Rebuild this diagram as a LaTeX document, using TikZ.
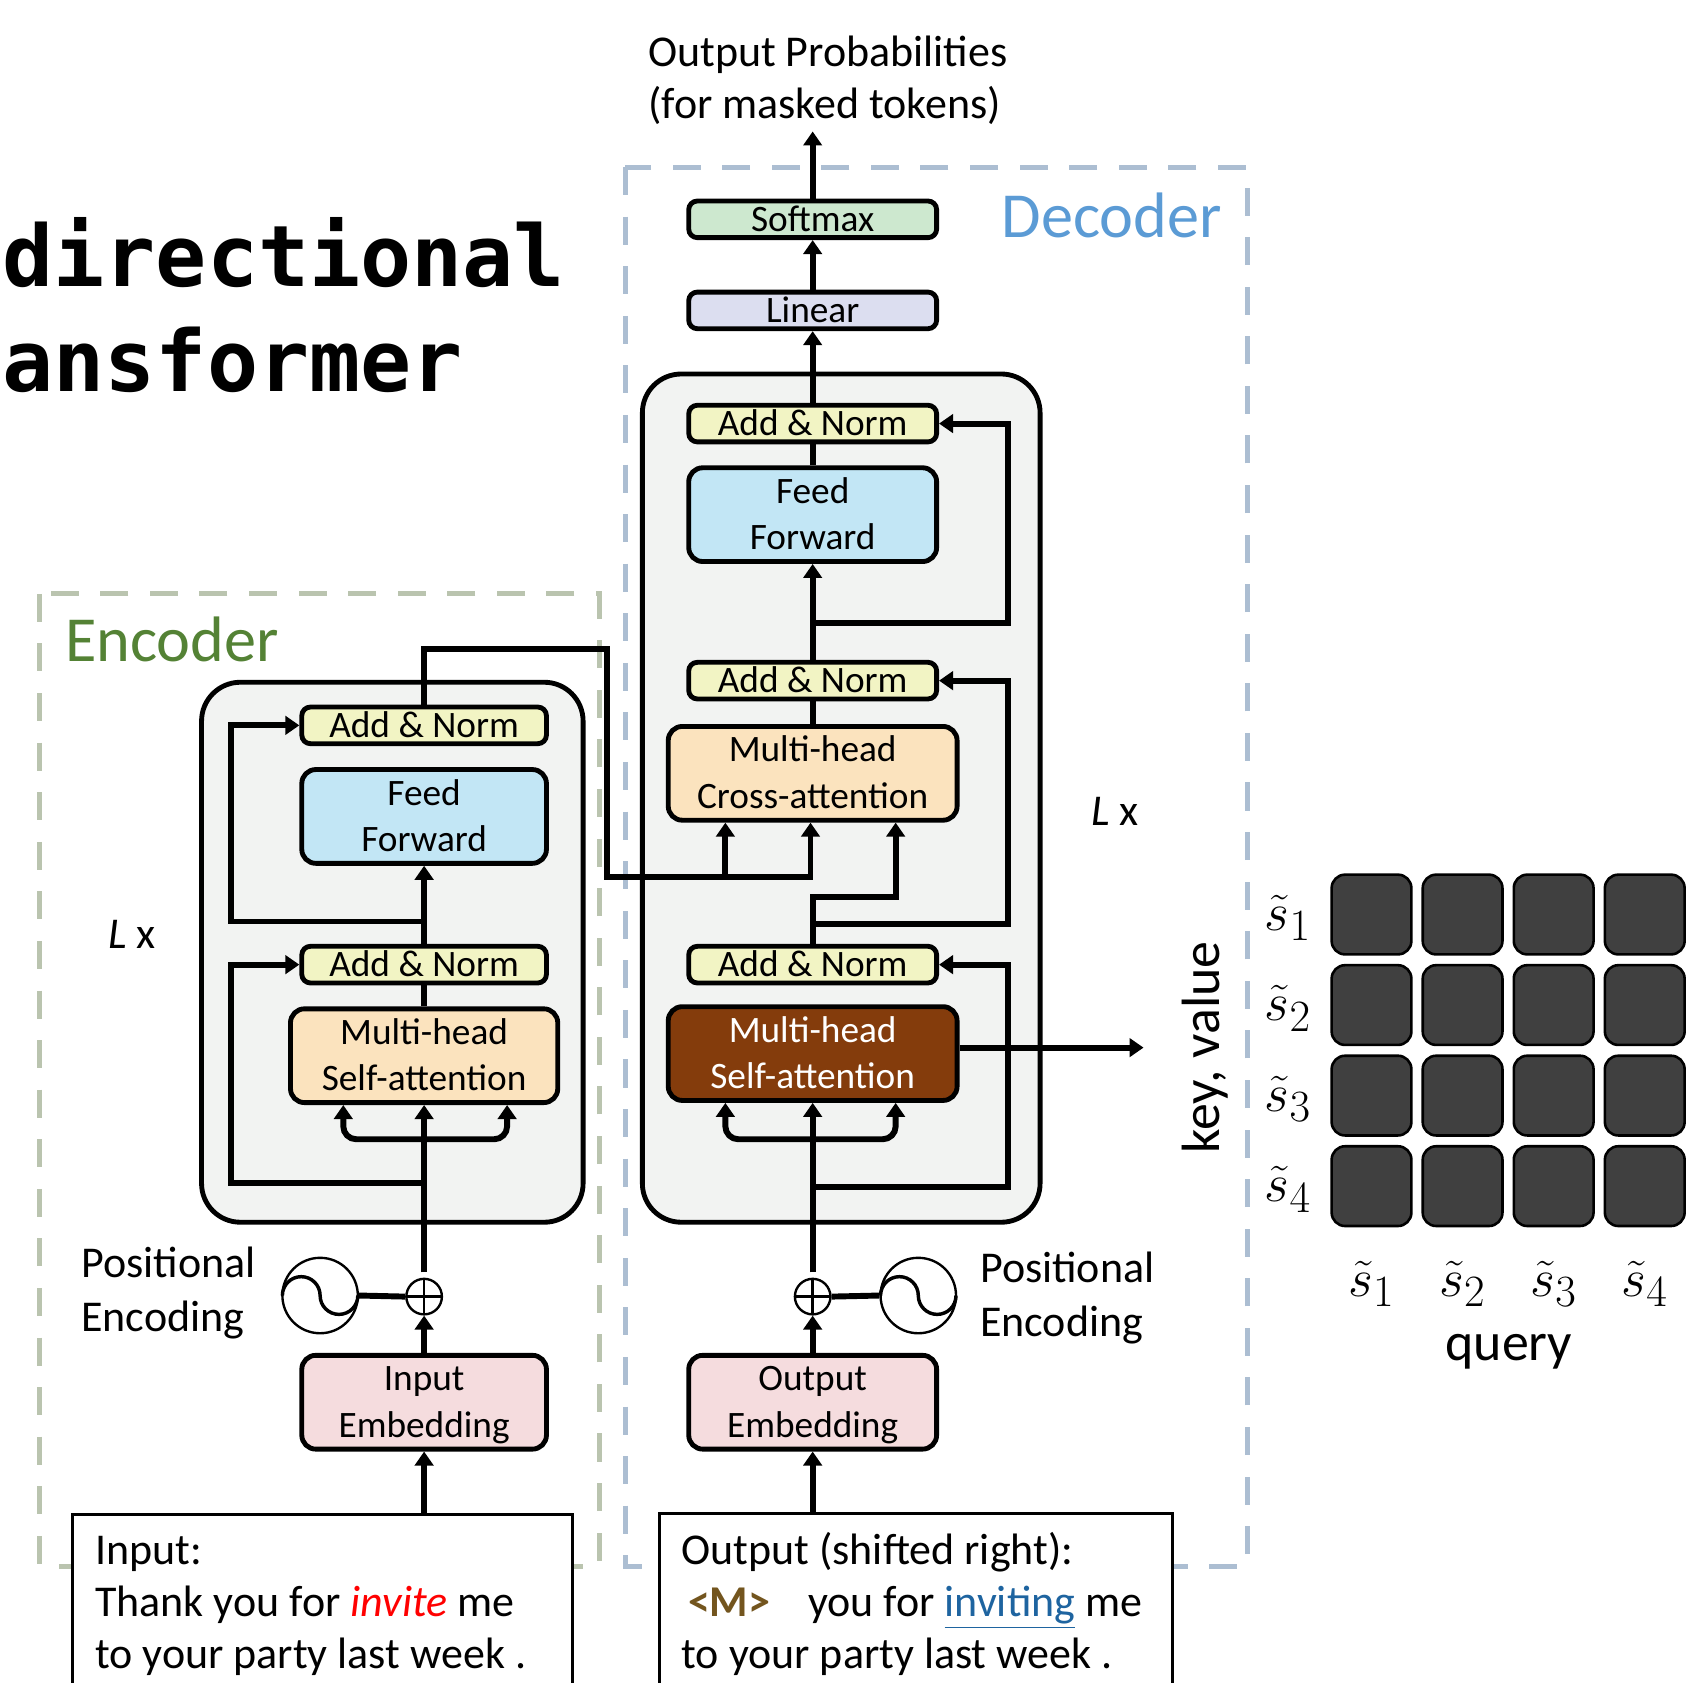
\documentclass[tikz,border=0pt]{standalone}
\usepackage[no-math]{fontspec}
\setmainfont{Carlito}
\newfontfamily\titlefont{DejaVu Sans Mono}
\usetikzlibrary{arrows.meta}

\definecolor{encdash}{RGB}{186,196,175}
\definecolor{decdash}{RGB}{172,190,210}
\definecolor{encgreen}{RGB}{84,130,53}
\definecolor{decblue}{RGB}{91,155,213}
\definecolor{blockbg}{RGB}{242,243,242}
\definecolor{addnorm}{RGB}{242,244,196}
\definecolor{ffblue}{RGB}{194,230,245}
\definecolor{attn}{RGB}{251,227,190}
\definecolor{mhbrown}{RGB}{132,60,12}
\definecolor{embpink}{RGB}{245,220,222}
\definecolor{softgreen}{RGB}{205,232,207}
\definecolor{linlav}{RGB}{220,222,240}
\definecolor{cellgray}{RGB}{64,64,64}
\definecolor{mtokbrown}{RGB}{115,85,30}
\definecolor{linkblue}{RGB}{30,100,160}

\newcommand\boxfont{\fontsize{17.3pt}{21.5pt}\selectfont}
\newcommand\bigfont{\fontsize{20.4pt}{24pt}\selectfont}
\newcommand\labfont{\fontsize{29.8pt}{34pt}\selectfont}
\newcommand\kvfont{\fontsize{25pt}{30pt}\selectfont}
\newcommand\mfont{\fontsize{24.88pt}{30pt}\selectfont}
\newcommand\ttlfont{\titlefont\bfseries\fontsize{39.4pt}{46pt}\selectfont}
\newcommand{\twol}[2]{\vbox{\offinterlineskip\halign{\hfil##\hfil\cr
  \vrule height 10.9pt depth 0pt width 0pt\smash{#1}\cr
  \vrule height 21.5pt depth 0pt width 0pt\smash{#2}\cr}}}

\tikzset{
  conn/.style={line width=2.75pt},
  arr/.style={conn, -{Triangle[length=6.5pt,width=8.5pt]}},
  blk/.style={draw, line width=2.25pt, inner sep=0pt, font=\boxfont},
  onebox/.style={blk, rounded corners=4pt, minimum height=17pt, text height=10.9pt, text depth=0pt},
  twobox/.style={blk, rounded corners=6.5pt, minimum height=43.5pt},
  bigblock/.style={draw, line width=2.25pt, fill=blockbg, rounded corners=18pt, inner sep=0pt},
  regionline/.style={line width=2.3pt, dash pattern=on 13pt off 10pt},
  txtbox/.style={draw, line width=1.5pt, fill=white, inner sep=0pt},
  oplusnd/.style={circle, draw, line width=1.1pt, minimum size=16.5pt, inner sep=0pt, fill=white,
    path picture={\draw[line width=1.1pt] (path picture bounding box.north) -- (path picture bounding box.south)
      (path picture bounding box.west) -- (path picture bounding box.east);}},
  pesym/.style={circle, draw, line width=1.1pt, minimum size=35pt, inner sep=0pt},
  wavy/.style={line width=1.6pt},
  cellbox/.style={draw, line width=1.2pt, fill=cellgray, rounded corners=6.25pt, minimum size=37pt, inner sep=0pt},
  lbl/.style={inner sep=0pt, anchor=base west},
}

\begin{document}
\begin{tikzpicture}[x=0.5pt,y=-0.5pt]
\useasboundingbox (0,0) rectangle (1568,1561);
\clip (0,0) rectangle (1568,1561);

% title
\node[lbl, font=\ttlfont] (t1) at (2,266) {directional};
\node[lbl, font=\ttlfont] (t2) at (2,363) {ansformer};

% regions
\draw[regionline, encdash] (37,551) rectangle (556,1453);
\draw[regionline, decdash] (580,155) rectangle (1157,1453);
\node[lbl, font=\labfont, text=encgreen] (encl) at (60,614) {Encoder};
\node[lbl, font=\labfont, text=decblue] (decl) at (929,220) {Decoder};

% big blocks
\node[bigblock, minimum width=177pt, minimum height=250.5pt] (eBlock) at (364,883.5) {};
\node[bigblock, minimum width=184.5pt, minimum height=393.5pt] (dBlock) at (780.5,740.5) {};

% ---------------- encoder ----------------
\node[onebox, fill=addnorm, minimum width=113.5pt] (eAN2) at (393.5,673) {Add \& Norm};
\node[twobox, fill=ffblue, minimum width=113.5pt] (eFF) at (393.5,757.5) {\twol{Feed}{Forward}};
\node[onebox, fill=addnorm, minimum width=113.5pt] (eAN1) at (393.5,895) {Add \& Norm};
\node[twobox, fill=attn, minimum width=124pt] (eMH) at (393.5,979.5) {\twol{Multi-head}{Self-attention}};
\node[twobox, fill=embpink, minimum width=113.5pt] (eEmb) at (393.5,1301) {\twol{Input}{Embedding}};
\node[oplusnd] (ePlus) at (393.5,1203) {};
\node[pesym] (ePE) at (297,1202) {};
\draw[wavy] (ePE.center) ++(-35,0) arc[start angle=180, end angle=360, radius=17.5] arc[start angle=180, end angle=0, radius=17.5];
\node[lbl, font=\bigfont] (ePEt1) at (75,1185) {Positional};
\node[lbl, font=\bigfont] (ePEt2) at (75,1235) {Encoding};
\node[lbl, font=\bigfont] (eL) at (100,880) {\textit{L} x};

\node[txtbox, minimum width=232pt, minimum height=100pt] (eText) at (299,1505) {};
\node[lbl, font=\bigfont] (eT1) at (88,1452) {Input:};
\node[lbl, font=\bigfont] (eT2) at (88,1500) {Thank you for \textcolor{red}{\textit{invite}} me};
\node[lbl, font=\bigfont] (eT3) at (88,1548) {to your party last week .};

\draw[arr] (eText.north -| eEmb.south) -- (eEmb.south);
\draw[arr] (eEmb.north) -- (ePlus.south);
\draw[conn] (ePlus.west) -- (ePE.east);
\draw[arr, shorten <=2.5pt] (ePlus.north) -- (eMH.south);
\coordinate (eFork) at (393.5,1057);
\draw[arr, rounded corners=6pt] (eFork) -| ([xshift=-37.5pt]eMH.south);
\draw[arr, rounded corners=6pt] (eFork) -| ([xshift=38.5pt]eMH.south);
\coordinate (eR1) at (393.5,1098);
\draw[arr] (eR1) -- ++(-179.5,0) |- (eAN1.west);
\draw[conn] (eMH.north) -- (eAN1.south);
\draw[arr] (eAN1.north) -- (eFF.south);
\coordinate (eR2) at (393.5,855);
\draw[arr] (eR2) -- ++(-179.5,0) |- (eAN2.west);

% ---------------- decoder ----------------
\node[onebox, fill=softgreen, minimum width=115pt] (dSoft) at (754,203.5) {Softmax};
\node[onebox, fill=linlav, minimum width=115pt] (dLin) at (754,288) {Linear};
\node[onebox, fill=addnorm, minimum width=115pt] (dAN3) at (754,393) {Add \& Norm};
\node[twobox, fill=ffblue, minimum width=115pt] (dFF) at (754,477.5) {\twol{Feed}{Forward}};
\node[onebox, fill=addnorm, minimum width=115pt] (dAN2) at (754,631.5) {Add \& Norm};
\node[twobox, fill=attn, minimum width=134pt] (dCA) at (754,717.5) {\twol{Multi-head}{Cross-attention}};
\node[onebox, fill=addnorm, minimum width=115pt] (dAN1) at (754,895) {Add \& Norm};
\node[twobox, fill=mhbrown, text=white, minimum width=134pt] (dMH) at (754,977.5) {\twol{Multi-head}{Self-attention}};
\node[twobox, fill=embpink, minimum width=115pt] (dEmb) at (754,1301) {\twol{Output}{Embedding}};
\node[oplusnd] (dPlus) at (754,1203) {};
\node[pesym] (dPE) at (852,1202) {};
\draw[wavy] (dPE.center) ++(-35,0) arc[start angle=180, end angle=360, radius=17.5] arc[start angle=180, end angle=0, radius=17.5];
\node[lbl, font=\bigfont] (dPEt1) at (909,1190) {Positional};
\node[lbl, font=\bigfont] (dPEt2) at (909,1240) {Encoding};
\node[lbl, font=\bigfont] (dL) at (1012,766) {\textit{L} x};

\node[txtbox, minimum width=238pt, minimum height=100pt] (dText) at (850,1504) {};
\node[lbl, font=\bigfont] (dT1) at (632,1452) {Output (shifted right):};
\node[lbl, font=\bigfont] (dT2) at (632,1500) {\hspace*{3pt}\textcolor{mtokbrown}{\textbf{<M>}}\hspace*{17.5pt}you for \textcolor{linkblue}{\underline{inviting}} me};
\node[lbl, font=\bigfont] (dT3) at (632,1548) {to your party last week .};

\node[lbl, font=\bigfont] (op1) at (601,62) {Output Probabilities};
\node[lbl, font=\bigfont] (op2) at (601,110) {(for masked tokens)};

\draw[arr] (dText.north -| dEmb.south) -- (dEmb.south);
\draw[arr] (dEmb.north) -- (dPlus.south);
\draw[conn] (dPlus.east) -- (dPE.west);
\draw[arr, shorten <=2.5pt] (dPlus.north) -- (dMH.south);
\coordinate (dFork) at (754,1057);
\draw[arr, rounded corners=6pt] (dFork) -| ([xshift=-40.5pt]dMH.south);
\draw[arr, rounded corners=6pt] (dFork) -| ([xshift=38.5pt]dMH.south);
\coordinate (dR1) at (754,1101);
\draw[arr] (dR1) -- ++(181,0) |- (dAN1.east);
\coordinate (kvEnd) at (1061,972);
\draw[arr] (dMH.east |- kvEnd) -- (kvEnd);
\coordinate (dJ3) at (831,832);
\draw[arr] (dAN1.north) |- (dJ3) -- (dJ3 |- dCA.south);
\coordinate (dR2) at (754,857);
\draw[arr] (dR2) -- ++(181,0) |- (dAN2.east);
\draw[conn] (dCA.north) -- (dAN2.south);
\draw[arr] (dAN2.north) -- (dFF.south);
\coordinate (dR3) at (754,578);
\draw[arr] (dR3) -- ++(181,0) |- (dAN3.east);
\draw[conn] (dFF.north) -- (dAN3.south);
\draw[arr] (dAN3.north) -- (dLin.south);
\draw[arr] (dLin.north) -- (dSoft.south);
\coordinate (outTip) at (754,122);
\draw[arr] (dSoft.north) -- (outTip);

% encoder -> decoder cross connection
\coordinate (xHop) at (563,602);
\coordinate (xJ1) at (673,814);
\coordinate (xJ2) at (752,814);
\draw[arr] (eAN2.north) |- (xHop) |- (xJ2) -- (xJ2 |- dCA.south);
\draw[arr] (xJ1) -- (xJ1 |- dCA.south);

% ---------------- attention matrix ----------------
\foreach \i in {0,...,3}{
  \foreach \j in {0,...,3}{
    \node[cellbox] (c\i\j) at ({1272.5+84.5*\i},{848.5+84*\j}) {};
  }
}
\foreach \j/\k in {0/1,1/2,2/3,3/4}{
  \node[font=\mfont, anchor=base, inner sep=0pt] (rowl\k) at (1195,{863+84*\j}) {$\tilde{s}_{\k}$};
  \node[font=\mfont, anchor=base, inner sep=0pt] (coll\k) at ({1272.5+84.5*\j},1203) {$\tilde{s}_{\k}$};
}
\node[font=\kvfont, rotate=90, anchor=base, inner sep=0pt] (kv) at (1131,972) {key, value};
\node[font=\kvfont, anchor=base, inner sep=0pt] (qry) at (1400,1262) {query};
\end{tikzpicture}
\end{document}
